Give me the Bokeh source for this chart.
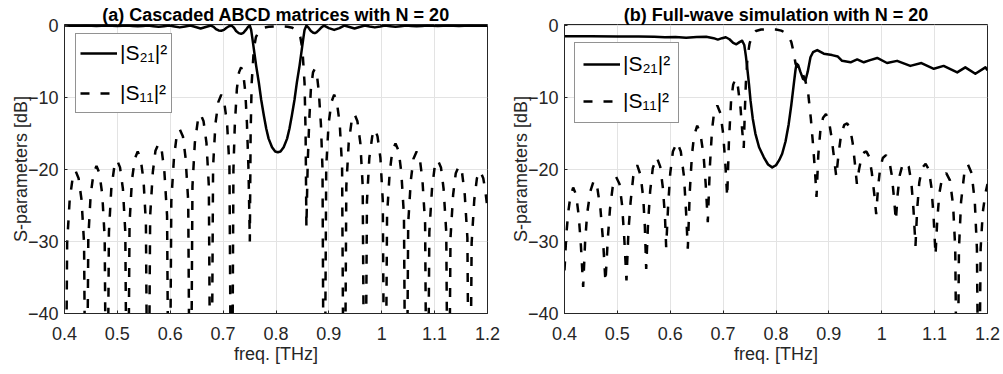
from bokeh.plotting import figure
from bokeh.layouts import row
from bokeh.models import Range1d, FixedTicker, NumeralTickFormatter, Legend, LegendItem
from bokeh.embed import file_html
from bokeh.resources import INLINE

FONT = "Liberation Sans"
INK = "#262626"

X_TICKS = [0.4, 0.5, 0.6, 0.7, 0.8, 0.9, 1.0, 1.1, 1.2]
Y_TICKS = [-40, -30, -20, -10, 0]

TITLE_A = "(a) Cascaded ABCD matrices with N = 20"
TITLE_B = "(b) Full-wave simulation with N = 20"
X_LABEL = "freq. [THz]"
Y_LABEL = "S-parameters [dB]"
LABEL_S21 = "|S\u2082\u2081|\u00b2"
LABEL_S11 = "|S\u2081\u2081|\u00b2"

# (a) cascaded ABCD model: (frequency [THz], level [dB])
S11_A = [
    (0.400, -45), (0.401, -70), (0.405, -30.2), (0.4098, -24.2), (0.4154, -21.2), (0.421, -20.2),
    (0.4266, -21.2), (0.4322, -24.2), (0.437, -30.2), (0.441, -70),
    (0.445, -29.5), (0.4495, -23.5), (0.455, -20.5), (0.4605, -19.5), (0.466, -20.5), (0.4715, -23.5),
    (0.476, -29.5), (0.480, -70),
    (0.484, -28.7), (0.4885, -22.7), (0.494, -19.7), (0.4995, -18.7), (0.505, -19.7), (0.5105, -22.7),
    (0.515, -28.7), (0.519, -70),
    (0.523, -27.5), (0.5275, -21.5), (0.533, -18.5), (0.5385, -17.5), (0.544, -18.5), (0.5495, -21.5),
    (0.554, -27.5), (0.558, -70),
    (0.562, -26.4), (0.567, -20.4), (0.572, -17.4), (0.578, -16.4), (0.584, -17.4), (0.589, -20.4),
    (0.594, -26.4), (0.598, -70),
    (0.602, -24.4), (0.607, -18.4), (0.612, -15.4), (0.618, -14.4), (0.624, -15.4), (0.629, -18.4),
    (0.634, -24.4), (0.638, -70),
    (0.642, -22.3), (0.6465, -16.3), (0.652, -13.3), (0.6575, -12.3), (0.663, -13.3), (0.6685, -16.3),
    (0.673, -22.3), (0.677, -70),
    (0.681, -19.6), (0.6855, -13.6), (0.691, -10.6), (0.6965, -9.6), (0.702, -10.6), (0.7075, -13.6),
    (0.712, -19.6), (0.716, -70),
    (0.7195, -20), (0.722, -14), (0.726, -8.8), (0.730, -6.5), (0.734, -5.8), (0.738, -6.6),
    (0.742, -9.3), (0.745, -13.5), (0.748, -20), (0.7505, -30),
    (0.752, -15), (0.754, -8), (0.758, -3.3), (0.762, -1.6), (0.7675, -0.8), (0.777, -0.3),
    (0.786, -0.15), (0.804, -0.09), (0.822, -0.15), (0.831, -0.3), (0.8405, -0.8), (0.846, -1.6),
    (0.850, -3.3), (0.854, -8), (0.856, -15), (0.8575, -28),
    (0.860, -19), (0.863, -13), (0.866, -8.8), (0.870, -6.5), (0.8735, -6.0), (0.877, -6.6),
    (0.881, -9.2), (0.885, -13.8), (0.888, -20), (0.891, -70),
    (0.895, -19.6), (0.8995, -13.6), (0.905, -10.6), (0.910, -9.6), (0.915, -10.6), (0.9205, -13.6),
    (0.925, -19.6), (0.929, -70),
    (0.933, -22.3), (0.9375, -16.3), (0.943, -13.3), (0.9485, -12.3), (0.954, -13.3), (0.9595, -16.3),
    (0.964, -22.3), (0.968, -70),
    (0.972, -24.4), (0.9765, -18.4), (0.982, -15.4), (0.987, -14.4), (0.992, -15.4), (0.9975, -18.4),
    (1.002, -24.4), (1.006, -70),
    (1.010, -26.4), (1.015, -20.4), (1.020, -17.4), (1.026, -16.4), (1.032, -17.4), (1.037, -20.4),
    (1.042, -26.4), (1.046, -70),
    (1.050, -27.5), (1.055, -21.5), (1.060, -18.5), (1.066, -17.5), (1.072, -18.5), (1.077, -21.5),
    (1.082, -27.5), (1.086, -70),
    (1.090, -28.7), (1.095, -22.7), (1.100, -19.7), (1.106, -18.7), (1.112, -19.7), (1.117, -22.7),
    (1.122, -28.7), (1.126, -70),
    (1.130, -29.5), (1.135, -23.5), (1.140, -20.5), (1.146, -19.5), (1.152, -20.5), (1.157, -23.5),
    (1.162, -29.5), (1.166, -70),
    (1.170, -30.2), (1.175, -24.2), (1.180, -21.2), (1.186, -20.2), (1.192, -21.2), (1.196, -23),
    (1.200, -25.5),
]

S21_A = [
    (0.400, 0), (0.411, -0.02), (0.421, -0.04), (0.431, -0.02), (0.441, 0), (0.451, -0.025),
    (0.4605, -0.05), (0.470, -0.025), (0.480, 0), (0.490, -0.03), (0.4995, -0.06), (0.509, -0.03),
    (0.519, 0), (0.529, -0.05), (0.5385, -0.1), (0.548, -0.05), (0.558, 0), (0.568, -0.08),
    (0.578, -0.15), (0.588, -0.08), (0.598, 0), (0.608, -0.13), (0.618, -0.25), (0.628, -0.13),
    (0.638, 0), (0.648, -0.2), (0.6575, -0.4), (0.667, -0.2), (0.677, 0), (0.682, -0.18),
    (0.6865, -0.5), (0.6915, -0.68), (0.6965, -0.72), (0.7015, -0.6), (0.7065, -0.3), (0.711, -0.1),
    (0.716, 0), (0.7205, -0.3), (0.7245, -0.75), (0.7295, -1.05), (0.734, -1.15), (0.7385, -1.0),
    (0.743, -0.6), (0.747, -0.2), (0.7505, 0), (0.753, -0.6), (0.755, -1.6), (0.758, -3.2),
    (0.7625, -5.6), (0.7675, -7.9), (0.772, -10.3), (0.777, -12.5), (0.7815, -14.3), (0.786, -15.7),
    (0.7925, -16.9), (0.7985, -17.5), (0.8035, -17.6), (0.8085, -17.5), (0.8145, -16.9), (0.821, -15.7),
    (0.8255, -14.3), (0.830, -12.5), (0.835, -10.3), (0.8395, -7.9), (0.8445, -5.6), (0.849, -3.2),
    (0.852, -1.6), (0.854, -0.6), (0.8575, 0), (0.8615, -0.3), (0.866, -0.75), (0.8705, -1.0),
    (0.8735, -1.05), (0.8765, -0.95), (0.8815, -0.6), (0.886, -0.25), (0.891, 0), (0.900, -0.35),
    (0.910, -0.6), (0.920, -0.35), (0.929, 0), (0.939, -0.2), (0.9485, -0.4), (0.958, -0.2),
    (0.968, 0), (0.977, -0.13), (0.987, -0.25), (0.997, -0.13), (1.006, 0), (1.016, -0.08),
    (1.026, -0.15), (1.036, -0.08), (1.046, 0), (1.056, -0.05), (1.066, -0.1), (1.076, -0.05),
    (1.086, 0), (1.096, -0.03), (1.106, -0.06), (1.116, -0.03), (1.126, 0), (1.136, -0.025),
    (1.146, -0.05), (1.156, -0.025), (1.166, 0), (1.176, -0.02), (1.186, -0.04), (1.200, -0.03),
]

# (b) full-wave simulation: (frequency [THz], level [dB])
S11_B = [
    (0.400, -34), (0.4035, -29), (0.407, -26), (0.411, -23.8), (0.4164, -22.5), (0.422, -23.5),
    (0.427, -26.5), (0.431, -30.5), (0.4353, -36.3),
    (0.439, -30), (0.443, -26), (0.449, -23), (0.4555, -21.5), (0.462, -22.5), (0.468, -25.5),
    (0.473, -30), (0.4775, -35.6),
    (0.482, -29.5), (0.486, -25.5), (0.491, -22.5), (0.4975, -21.0), (0.504, -22), (0.509, -25),
    (0.513, -29.5), (0.5172, -35.4),
    (0.521, -28.5), (0.525, -24.5), (0.530, -21), (0.5375, -19.4), (0.544, -20.8), (0.549, -24),
    (0.552, -28), (0.5545, -33.8),
    (0.558, -27.5), (0.562, -23), (0.567, -19.8), (0.5745, -18.3), (0.581, -19.6), (0.586, -22.5),
    (0.590, -26.5), (0.5923, -30.8),
    (0.596, -25), (0.600, -20.5), (0.605, -17.5), (0.613, -16.2), (0.620, -17.5), (0.626, -21),
    (0.630, -26), (0.6332, -31),
    (0.637, -23), (0.641, -18), (0.645, -15.3), (0.651, -13.9), (0.657, -15), (0.663, -18),
    (0.667, -22), (0.671, -27.3),
    (0.675, -19.5), (0.679, -14.5), (0.683, -12), (0.689, -11.1), (0.695, -12.2), (0.700, -15),
    (0.704, -19), (0.7077, -23.8),
    (0.711, -16), (0.715, -10.5), (0.719, -8.2), (0.7234, -7.4), (0.728, -8.5), (0.733, -11.5),
    (0.736, -14.5), (0.739, -17),
    (0.741, -12), (0.743, -8), (0.746, -4.5), (0.750, -2.5), (0.755, -1.3), (0.762, -0.75),
    (0.772, -0.55), (0.785, -0.5), (0.800, -0.55), (0.810, -0.7), (0.818, -1.0), (0.824, -1.5),
    (0.829, -2.3), (0.833, -3.6), (0.837, -5.3), (0.841, -6.0), (0.845, -5.9), (0.851, -6.8),
    (0.856, -7.8), (0.861, -9.5), (0.866, -13), (0.870, -16.5), (0.874, -20.5), (0.8766, -23.8),
    (0.880, -18), (0.884, -14.5), (0.889, -12.8), (0.8945, -12.3), (0.900, -13.2), (0.905, -15.5),
    (0.910, -18.5), (0.914, -21),
    (0.918, -18), (0.923, -15.2), (0.929, -13.8), (0.9346, -13.6), (0.940, -14.2), (0.945, -16.3),
    (0.949, -19), (0.953, -22),
    (0.957, -20), (0.962, -18.2), (0.967, -17.6), (0.971, -17.5), (0.976, -18.2), (0.981, -20.3),
    (0.986, -23.5), (0.9895, -26.2),
    (0.993, -22.5), (0.997, -19.8), (1.002, -18.4), (1.008, -18), (1.014, -18.7), (1.019, -20.8),
    (1.023, -23.8), (1.0267, -27.1),
    (1.030, -23.5), (1.034, -20.8), (1.039, -19.4), (1.045, -19), (1.051, -19.6), (1.056, -21.8),
    (1.060, -25.5), (1.0638, -30.6),
    (1.067, -25.5), (1.071, -21.8), (1.076, -19.8), (1.083, -19.2), (1.089, -20), (1.094, -22.5),
    (1.098, -26.5), (1.1017, -31.9),
    (1.105, -27), (1.109, -23.3), (1.114, -21.2), (1.122, -20.5), (1.129, -21.5), (1.135, -25),
    (1.139, -31), (1.1427, -60),
    (1.146, -31), (1.150, -24.5), (1.156, -20.6), (1.163, -19.3), (1.170, -20.5), (1.176, -24.5),
    (1.180, -31), (1.1835, -60),
    (1.187, -31), (1.191, -26), (1.196, -23.3), (1.200, -22),
]

S21_B = [
    (0.400, -1.48), (0.450, -1.49), (0.500, -1.5), (0.540, -1.52), (0.570, -1.55), (0.590, -1.62),
    (0.610, -1.58), (0.630, -1.68), (0.650, -1.6), (0.668, -1.55), (0.682, -1.75), (0.690, -1.95),
    (0.698, -1.75), (0.705, -1.62), (0.712, -1.9), (0.719, -2.4), (0.725, -2.6), (0.731, -2.3),
    (0.736, -2.1), (0.740, -2.7), (0.743, -4.2), (0.7455, -5.8), (0.749, -8.2), (0.7518, -10.4),
    (0.756, -12.9), (0.761, -15), (0.768, -16.9), (0.777, -18.3), (0.785, -19.3), (0.7928, -19.7),
    (0.800, -19.4), (0.806, -18.7), (0.8117, -17.8), (0.818, -16.1), (0.824, -13.7), (0.829, -11),
    (0.8337, -8.1), (0.837, -6.1), (0.839, -5.3), (0.842, -5.5), (0.846, -6.4), (0.851, -7.4),
    (0.8558, -7.6), (0.860, -6.4), (0.8652, -4.4), (0.870, -3.7), (0.878, -3.4), (0.8904, -3.9),
    (0.906, -4.1), (0.917, -4.3), (0.925, -4.9), (0.941, -5.1), (0.9535, -4.7), (0.966, -5.1),
    (0.978, -4.8), (0.9914, -4.5), (1.010, -5.2), (1.029, -4.9), (1.054, -5.6), (1.075, -5.2),
    (1.0985, -6.0), (1.117, -5.6), (1.1427, -6.5), (1.158, -5.8), (1.177, -6.7), (1.196, -5.8),
    (1.200, -6.2),
]


def split(points):
    return [f for f, _ in points], [d for _, d in points]


def make_panel(title, s21, s11, width, border_right, legend_xy, legend_pad, legend_item_h, legend_gap):
    p = figure(width=width, height=374, output_backend="svg", toolbar_location=None,
               x_range=Range1d(0.4, 1.2), y_range=Range1d(-40, 0.15),
               min_border_left=64, min_border_right=border_right,
               min_border_top=24, min_border_bottom=61,
               background_fill_color="white", border_fill_color="white")

    p.title.text = title
    p.title.align = "center"
    p.title.text_font = FONT
    p.title.text_font_size = "18px"
    p.title.text_font_style = "bold"
    p.title.text_color = "black"
    p.title.standoff = 0

    p.outline_line_color = INK
    p.outline_line_width = 1

    p.xaxis.ticker = FixedTicker(ticks=X_TICKS)
    p.yaxis.ticker = FixedTicker(ticks=Y_TICKS)
    p.xaxis.formatter = NumeralTickFormatter(format="0.[0]")
    p.xgrid.grid_line_color = "#e3e3e3"
    p.ygrid.grid_line_color = "#e3e3e3"

    for ax in (p.xaxis[0], p.yaxis[0]):
        ax.axis_line_color = INK
        ax.major_tick_in = 3
        ax.major_tick_out = 0
        ax.minor_tick_line_color = None
        ax.major_tick_line_color = INK
        ax.major_label_text_font = FONT
        ax.major_label_text_font_size = "18px"
        ax.major_label_text_color = INK
        ax.axis_label_text_font = FONT
        ax.axis_label_text_font_size = "18px"
        ax.axis_label_text_font_style = "normal"
        ax.axis_label_text_color = INK
    p.xaxis.axis_label = X_LABEL
    p.yaxis.axis_label = Y_LABEL
    p.xaxis.major_label_standoff = 13
    p.yaxis.major_label_standoff = 6
    p.xaxis.axis_label_standoff = 1
    p.yaxis.axis_label_standoff = -6

    f21, d21 = split(s21)
    f11, d11 = split(s11)
    r21 = p.line(f21, d21, line_color="black", line_width=2.5, line_join="round")
    r11 = p.line(f11, d11, line_color="black", line_width=2.5, line_dash="9 11")

    legend = Legend(items=[LegendItem(label=LABEL_S21, renderers=[r21]),
                           LegendItem(label=LABEL_S11, renderers=[r11])],
                    location=legend_xy, orientation="vertical")
    legend.border_line_color = INK
    legend.border_line_width = 1
    legend.background_fill_color = "white"
    legend.background_fill_alpha = 1
    legend.label_text_font = FONT
    legend.label_text_font_size = "21px"
    legend.label_text_color = "black"
    legend.glyph_width = 37
    legend.glyph_height = legend_item_h
    legend.label_height = legend_item_h
    legend.label_standoff = 3
    legend.padding = legend_pad
    legend.spacing = legend_gap
    legend.margin = 0
    p.add_layout(legend)
    return p


left = make_panel(TITLE_A, S21_A, S11_A, 500, 13, (11, 200), 4, 30, 10)
right = make_panel(TITLE_B, S21_B, S11_B, 503, 16, (10, 190), 8, 26, 11)

layout = row(left, right, spacing=0)
open("out.html", "w").write(file_html(layout, INLINE))
